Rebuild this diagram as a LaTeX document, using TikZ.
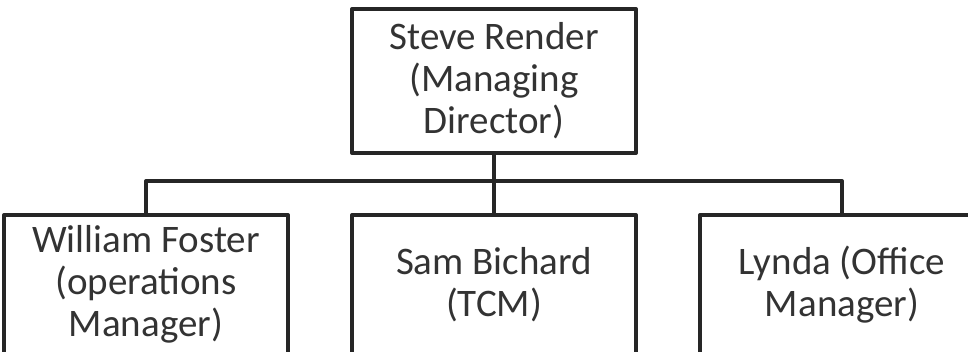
\documentclass[tikz,border=0pt]{standalone}
\usepackage{fontspec}
\setmainfont{Carlito}
\usepackage{xcolor}
\usepackage{tikz}
\usetikzlibrary{positioning}

\begin{document}
\begin{tikzpicture}[x=1pt, y=1pt,
  box/.style={draw=black!85, line width=4pt, line join=round, align=center,
              text=black!80, font=\fontsize{39}{42}\selectfont, inner sep=0pt,
              minimum width=284pt},
  boss/.style={box, minimum height=144pt},
  staff/.style={box, minimum height=139pt},
  link/.style={draw=black!85, line width=4pt, line join=round}]

  % page frame (the lower row runs off the bottom and right edge)
  \clip (0,0) rectangle (968,-351);

  % managing director on top, three staff boxes below
  \node[boss] (md) at (494,-81) {Steve Render\\(Managing\\Director)};
  \node[staff, below=58pt of md] (tcm) {Sam Bichard\\(TCM)};
  \node[staff, left=60pt of tcm] (ops) {William Foster\\(operations\\Manager)};
  \node[staff, right=60pt of tcm] (office) {Lynda (Office\\Manager)};

  % horizontal bus between the rows
  \coordinate (bus) at (494,-181);

  \draw[link] (md) -- (tcm);
  \draw[link] (ops.north) |- (bus) -| (office.north);
\end{tikzpicture}
\end{document}
